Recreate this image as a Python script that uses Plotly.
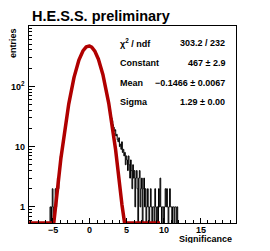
import plotly.graph_objects as go
import math

# ---------------- data ----------------
bin_width = 0.1
first_edge = -5.6
counts = [
    0, 0, 1, 0, 1, 2, 0, 1, 1, 2,          # -5.6 .. -4.6
    1, 2, 3, 2, 4, 5, 7, 8, 9, 12,         # -4.6 .. -3.6
    14, 18, 20, 27, 30, 38, 43, 53, 60, 72,   # -3.6 .. -2.6
    81, 96, 107, 125, 138, 159, 174, 197, 213, 239,  # -2.6 .. -1.6
    256, 283, 299, 327, 342, 368, 381, 405, 416, 436,  # -1.6 .. -0.6
    441, 458, 457, 472, 463, 470, 459, 457, 441, 437,  # -0.6 .. 0.4
    416, 407, 382, 370, 343, 329, 301, 285, 257, 241,  # 0.4 .. 1.4
    214, 199, 175, 161, 139, 127, 108, 98, 84, 74,     # 1.4 .. 2.4
    63, 56, 47, 41, 36, 30, 27, 23, 21, 18,            # 2.4 .. 3.4
    19, 15, 16, 13, 12, 14, 10, 11, 9, 12,             # 3.4 .. 4.4
    8, 9, 7, 8, 5, 7, 6, 4, 7, 5,                      # 4.4 .. 5.4
    3, 6, 4, 2, 5, 3, 4, 1, 3, 4,                      # 5.4 .. 6.4
    2, 0, 3, 4, 1, 2, 3, 0, 2, 3,                      # 6.4 .. 7.4
    1, 2, 0, 1, 2, 1, 0, 1, 2, 1,                      # 7.4 .. 8.4
    0, 1, 1, 0, 2, 1, 0, 1, 0, 2,                      # 8.4 .. 9.4
    1, 3, 1, 0, 1, 1, 0, 1, 2, 1,                      # 9.4 .. 10.4
    2, 1, 0, 1, 2, 1, 1, 0, 1, 1,                      # 10.4 .. 11.4
    0, 1, 1, 0, 1, 0,                                  # 11.4 .. 12.0
]

fit_constant = 467.0
fit_mean = -0.1466
fit_sigma = 1.29
fit_range = (-8.25, 9.5)

stat_labels = ["χ<sup>2</sup> / ndf", "Constant", "Mean", "Sigma"]
stat_values = ["303.2 / 232", "467 ± 2.9", "−0.1466 ± 0.0067", "1.29 ± 0.00"]

x_range = [-8.25, 19.8]
x_major = [-5, 0, 5, 10, 15]
x_major_text = ["−5", "0", "5", "10", "15"]
y_min, y_max = 0.54, 1000.0
y_major = [1, 10, 100]
y_major_text = ["1", "10", "10<sup>2</sup>"]

# ---------------- build ----------------
floor = y_min * 0.5  # empty bins drop below frame (clipped)
edges = [first_edge + i * bin_width for i in range(len(counts) + 1)]
hx = [edges[0]] + edges + [edges[-1]]
hy = [floor] + [c if c > 0 else floor for c in counts] + [floor]

n = 900
fx = [fit_range[0] + (fit_range[1] - fit_range[0]) * i / (n - 1) for i in range(n)]
fy = [max(fit_constant * math.exp(-0.5 * ((v - fit_mean) / fit_sigma) ** 2), y_min) for v in fx]

fig = go.Figure()
fig.add_trace(go.Scatter(x=hx, y=hy, mode="lines", line=dict(color="black", width=1, shape="hv"),
                         hoverinfo="skip"))
fig.add_trace(go.Scatter(x=fx, y=fy, mode="lines", line=dict(color="#b00000", width=3.5),
                         hoverinfo="skip"))

FAM = "Liberation Sans, Arial, sans-serif"
font_b = dict(family=FAM, size=9, color="black", weight="bold")

minor_y = []
for dec in [0.1, 1, 10, 100]:
    for k in range(2, 10):
        v = k * dec
        if y_min <= v <= y_max:
            minor_y.append(v)

fig.update_xaxes(range=x_range, showgrid=False, zeroline=False, showline=True, linecolor="black",
                 linewidth=1, mirror=True, ticks="inside", ticklen=5, tickwidth=1, tickcolor="black",
                 tickvals=x_major, showticklabels=False, automargin=False,
                 minor=dict(ticks="inside", ticklen=3, tickwidth=1, tickcolor="black", dtick=1, showgrid=False))
fig.update_yaxes(type="log", range=[math.log10(y_min), math.log10(y_max)], showgrid=False, zeroline=False,
                 showline=True, linecolor="black", linewidth=1, mirror=True, ticks="inside", ticklen=6,
                 tickwidth=1, tickcolor="black", tickvals=y_major, showticklabels=False, automargin=False,
                 minor=dict(ticks="inside", ticklen=3, tickwidth=1, tickcolor="black", tickvals=minor_y,
                            showgrid=False))

# page body has an 8px margin: frame in screen pixels is x 29..236, y 26..223
OFF = 8
FL, FR, FT, FB = 29, 236, 26, 223
W, H = 270 - 2 * OFF, 251 - 2 * OFF
L, T = FL - OFF, FT - OFF
pw, ph = FR - FL, FB - FT
R, B = W - L - pw, H - T - ph


def px(xp):
    return (xp - FL) / pw


def py(yp):
    return 1 - (yp - FT) / ph


ann = []
ann.append(dict(text="H.E.S.S. preliminary", x=px(30), y=py(15.5), xanchor="left", yanchor="middle",
                xref="paper", yref="paper",
                font=dict(family=FAM, size=14.5, color="black", weight="bold")))
rows_y = [43, 63, 83, 102]
for lab, val, yy in zip(stat_labels, stat_values, rows_y):
    ann.append(dict(text=lab, x=px(118), y=py(yy), xanchor="left", yanchor="middle",
                    xref="paper", yref="paper", font=font_b))
    ann.append(dict(text=val, x=px(227), y=py(yy), xanchor="right", yanchor="middle",
                    xref="paper", yref="paper", font=font_b))
ann.append(dict(text="entries", x=px(13), y=1.0, xanchor="center", yanchor="top", textangle=-90,
                xref="paper", yref="paper", font=font_b))
ann.append(dict(text="Significance", x=px(234), y=py(239), xanchor="right", yanchor="middle",
                xref="paper", yref="paper", font=font_b))
# tick labels
for v, t in zip(x_major, x_major_text):
    ann.append(dict(text=t, x=v, y=py(229.5), xref="x", yref="paper", xanchor="center", yanchor="middle",
                    font=font_b))
for v, t in zip(y_major, y_major_text):
    ann.append(dict(text=t, x=px(27), y=math.log10(v), xref="paper", yref="y", xanchor="right",
                    yanchor="middle", font=font_b))
for a in ann:
    a.update(showarrow=False)

fig.update_layout(width=W, height=H, margin=dict(l=L, r=R, t=T, b=B, pad=0, autoexpand=False),
                  showlegend=False, plot_bgcolor="white", paper_bgcolor="white", annotations=ann)

fig.write_html("out.html")
